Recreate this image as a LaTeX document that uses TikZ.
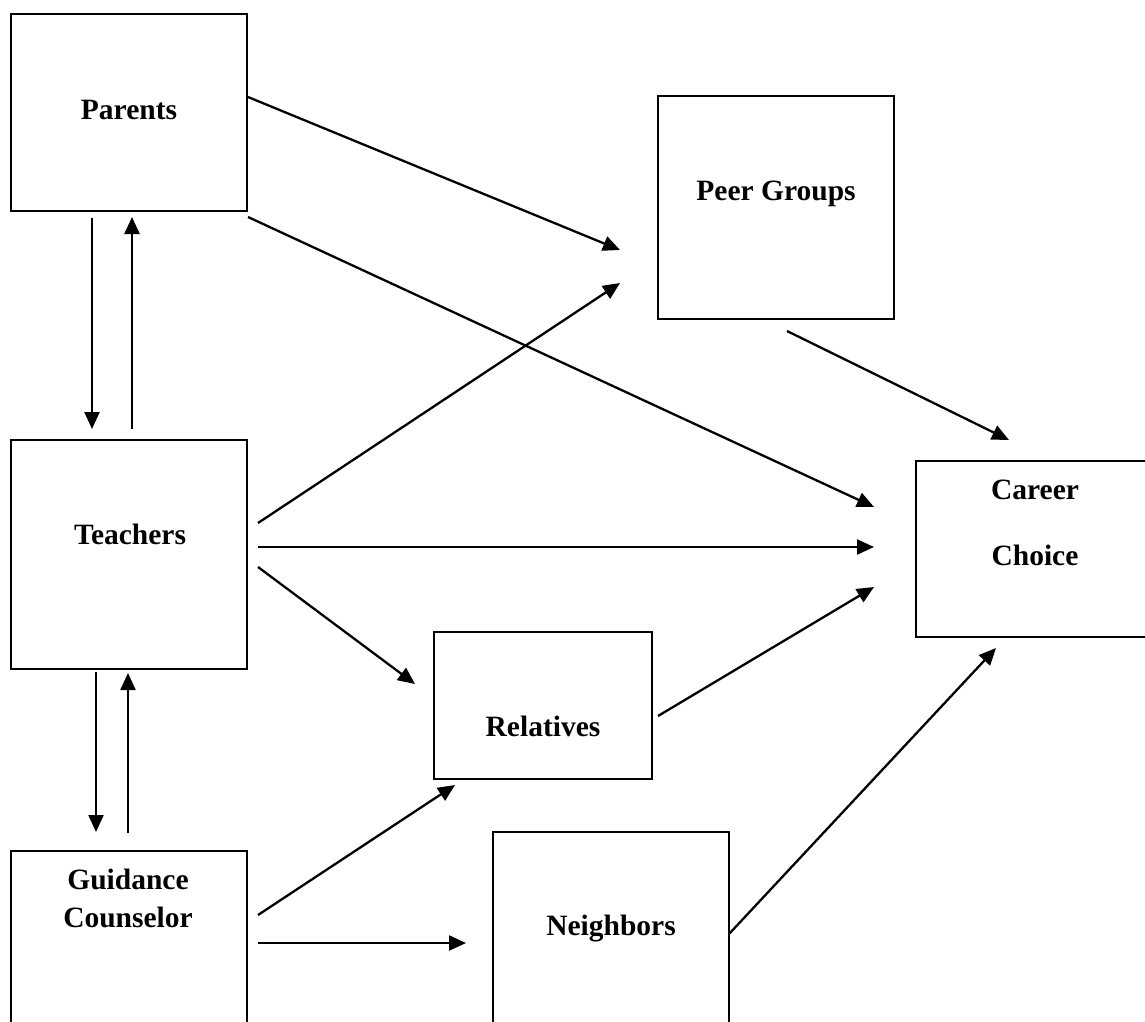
\documentclass[tikz,border=0pt]{standalone}
\usepackage{fontspec}
\setmainfont{Liberation Serif}
\usetikzlibrary{arrows.meta}
\begin{document}
\begin{tikzpicture}[x=1pt,y=-1pt,
 box/.style={draw, line width=2pt, rectangle, inner sep=0pt},
 lbl/.style={font=\fontsize{29.5}{34}\selectfont\bfseries, inner sep=0pt, anchor=base},
 conn/.style={line width=2.3pt, -{Triangle[length=17pt,width=15pt]}}]
\useasboundingbox (0,0) rectangle (1145,1021);
\clip (0,0) rectangle (1145,1021);
% boxes
\node[box, minimum width=236.5, minimum height=197] (parents) at (128.75,112.5) {};
\node[box, minimum width=236.5, minimum height=223.3] (peer) at (775.75,207.4) {};
\node[box, minimum width=236.5, minimum height=229] (teachers) at (128.75,554.5) {};
\node[box, minimum width=244, minimum height=176] (career) at (1038,549) {};
\node[box, minimum width=218, minimum height=147] (relatives) at (543,705.5) {};
\node[box, minimum width=236.5, minimum height=189] (guidance) at (128.75,945.5) {};
\node[box, minimum width=236.3, minimum height=208] (neighbors) at (610.85,936) {};
% labels
\node[lbl] (tparents) at (129,119) {Parents};
\node[lbl] (tpeer) at (776,200) {Peer Groups};
\node[lbl] (tcareer1) at (1035,499) {Career};
\node[lbl] (tcareer2) at (1035,565) {Choice};
\node[lbl] (tteachers) at (130,544) {Teachers};
\node[lbl] (trelatives) at (543,736) {Relatives};
\node[lbl] (tneighbors) at (611,935) {Neighbors};
\node[lbl] (tguid1) at (128,889) {Guidance};
\node[lbl] (tguid2) at (128,927) {Counselor};
% connector endpoints
\coordinate (pt1) at (92,218);  \coordinate (pt2) at (92,429);
\coordinate (tp1) at (132,429); \coordinate (tp2) at (132,217);
\coordinate (tg1) at (96,672);  \coordinate (tg2) at (96,832);
\coordinate (gt1) at (128,833); \coordinate (gt2) at (128,673);
\coordinate (pp1) at (248,97);  \coordinate (pp2) at (620,250);
\coordinate (pc1) at (248,217); \coordinate (pc2) at (874,507);
\coordinate (tpe1) at (258,523); \coordinate (tpe2) at (620,283);
\coordinate (tc1) at (258,547); \coordinate (tc2) at (874,547);
\coordinate (tr1) at (258,567); \coordinate (tr2) at (415,684);
\coordinate (rc1) at (658,716); \coordinate (rc2) at (874,587);
\coordinate (pec1) at (787,331); \coordinate (pec2) at (1009,440);
\coordinate (nc1) at (729,934); \coordinate (nc2) at (996,648);
\coordinate (gr1) at (258,915); \coordinate (gr2) at (455,785);
\coordinate (gn1) at (258,943); \coordinate (gn2) at (466,943);
% connectors
\draw[conn] (pt1) -- (pt2);
\draw[conn] (tp1) -- (tp2);
\draw[conn] (tg1) -- (tg2);
\draw[conn] (gt1) -- (gt2);
\draw[conn] (pp1) -- (pp2);
\draw[conn] (pc1) -- (pc2);
\draw[conn] (tpe1) -- (tpe2);
\draw[conn] (tc1) -- (tc2);
\draw[conn] (tr1) -- (tr2);
\draw[conn] (rc1) -- (rc2);
\draw[conn] (pec1) -- (pec2);
\draw[conn] (nc1) -- (nc2);
\draw[conn] (gr1) -- (gr2);
\draw[conn] (gn1) -- (gn2);
\end{tikzpicture}
\end{document}
